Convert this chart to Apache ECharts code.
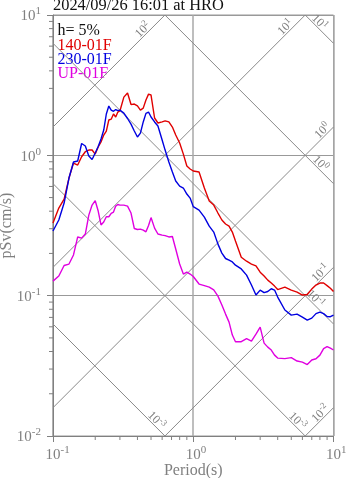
<!DOCTYPE html>
<html>
<head>
<meta charset="utf-8">
<script src="https://cdn.jsdelivr.net/npm/echarts@6/dist/echarts.min.js"></script>
<style>
html,body{margin:0;padding:0;background:#fff;}
#chart{width:347px;height:478px;}
</style>
</head>
<body>
<div id="chart"></div>
<script>
// Pseudo-velocity response spectra (h = 5%), station HRO
const periods = [0.10,0.11,0.12,0.13,0.14,0.15,0.16,0.17,0.18,0.19,0.20,0.21,0.22,0.23,0.24,0.25,0.26,0.27,0.28,0.29,0.30,
  0.32,0.34,0.36,0.38,0.40,0.42,0.44,0.46,0.48,0.50,
  0.53,0.56,0.60,0.63,0.67,0.71,0.75,0.80,0.85,0.90,0.95,
  1.0,1.1,1.2,1.3,1.4,1.5,1.6,1.7,1.8,1.9,2.0,
  2.2,2.4,2.6,2.8,3.0,3.2,3.4,3.6,3.8,4.0,
  4.5,5.0,5.5,6.0,6.5,7.0,7.5,8.0,8.5,9.0,9.5,10];

const sv140 = [0.329,0.421,0.488,0.689,0.881,0.853,0.977,1.061,1.091,1.091,1.021,1.146,1.244,1.395,1.49,1.785,1.81,1.97,1.875,2.035,2.07,
  2.60,2.78,2.30,2.32,2.25,2.10,2.17,2.48,2.73,2.69,
  1.845,1.70,1.73,1.76,1.73,1.59,1.395,1.224,1.02,0.839,0.799,
  0.773,0.760,0.585,0.472,0.442,0.388,0.346,0.324,0.313,0.284,0.245,
  0.188,0.176,0.168,0.163,0.147,0.138,0.129,0.123,0.117,0.1105,
  0.115,0.1096,0.106,0.101,0.102,0.1114,0.119,0.123,0.123,0.118,0.113,0.107];

const sv230 = [0.289,0.346,0.457,0.689,0.896,0.911,1.214,1.165,0.989,0.933,1.038,1.155,1.307,1.515,1.97,2.245,2.10,2.06,2.12,2.08,2.10,
  2.00,1.83,1.67,1.49,1.35,1.44,1.73,1.99,2.035,1.875,
  1.73,1.62,1.285,1.09,0.896,0.760,0.656,0.604,0.585,0.530,0.496,
  0.431,0.407,0.363,0.313,0.284,0.233,0.201,0.184,0.179,0.174,0.165,
  0.155,0.140,0.119,0.101,0.1096,0.105,0.107,0.112,0.1096,0.0977,
  0.079,0.0727,0.0739,0.0704,0.067,0.0692,0.0745,0.0764,0.0745,0.071,0.0708,0.0727];

const svUP = [0.127,0.138,0.164,0.168,0.195,0.262,0.257,0.275,0.375,0.442,0.475,0.401,0.319,0.335,0.365,0.365,0.386,0.394,0.435,0.446,0.442,
  0.442,0.435,0.388,0.301,0.296,0.298,0.293,0.285,0.316,0.360,
  0.303,0.275,0.270,0.268,0.262,0.264,0.215,0.168,0.1426,0.147,0.1426,
  0.137,0.121,0.118,0.115,0.110,0.0993,0.0857,0.0739,0.0648,0.0524,0.0469,
  0.047,0.0494,0.0475,0.0532,0.0597,0.0459,0.043,0.041,0.0377,0.0359,
  0.0356,0.0362,0.0342,0.0336,0.0323,0.0348,0.0355,0.0377,0.042,0.0434,0.0423,0.041];

const seriesNames = ['140-01F', '230-01F', 'UP-01F'];
const seriesColors = ['#e00000', '#0000e0', '#e000e0'];
const dampingText = 'h= 5%';
const titleText = '2024/09/26 16:01 at HRO';

// Axis ranges (decades)
const periodRange = [0.1, 10];
const svRange = [0.01, 10];

// Tripartite guide lines: constant pseudo-acceleration (cm/s^2) and displacement (cm)
const accLevels = [0.01, 0.1, 1, 10, 100, 1000];
const dispLevels = [0.0001, 0.001, 0.01, 0.1, 1, 10];

const SERIF = '"Liberation Serif", "DejaVu Serif", serif';
const GREY = '#808080';
const TWO_PI = 2 * Math.PI;

function accSegment(sa) {           // Sv = Sa * T / 2pi
  const lo = Math.max(periodRange[0], svRange[0] * TWO_PI / sa);
  const hi = Math.min(periodRange[1], svRange[1] * TWO_PI / sa);
  return lo < hi ? [lo, sa * lo / TWO_PI, hi, sa * hi / TWO_PI] : null;
}
function dispSegment(sd) {          // Sv = 2pi * Sd / T
  const lo = Math.max(periodRange[0], TWO_PI * sd / svRange[1]);
  const hi = Math.min(periodRange[1], TWO_PI * sd / svRange[0]);
  return lo < hi ? [lo, TWO_PI * sd / lo, hi, TWO_PI * sd / hi] : null;
}
const guideSegments = accLevels.map(accSegment).concat(dispLevels.map(dispSegment)).filter(Boolean);

// Guide-line labels: which line, and the period where the label sits
const guideLabels = [
  { kind: 'acc',  level: 100,   at: 0.465, exp: '2'  },
  { kind: 'acc',  level: 10,    at: 4.83,  exp: '1'  },
  { kind: 'disp', level: 10,    at: 7.5,   exp: '1'  },
  { kind: 'acc',  level: 1,     at: 8.87,  exp: '0'  },
  { kind: 'disp', level: 1,     at: 7.62,  exp: '0'  },
  { kind: 'acc',  level: 0.1,   at: 8.58,  exp: '-1' },
  { kind: 'disp', level: 0.1,   at: 7.02,  exp: '-1' },
  { kind: 'disp', level: 0.01,  at: 5.22,  exp: '-3' },
  { kind: 'disp', level: 0.001, at: 0.516, exp: '-3' },
  { kind: 'acc',  level: 0.01,  at: 8.58,  exp: '-2' }
];
const guideLabelData = guideLabels.map(g => [g.at, g.kind === 'acc' ? g.level * g.at / TWO_PI : TWO_PI * g.level / g.at]);

// Minor ticks 2..9 within each decade
const minorX = [], minorY = [];
for (let d = -2; d <= 0; d++) {
  for (let m = 2; m <= 9; m++) {
    const v = m * Math.pow(10, d);
    if (v > periodRange[0] && v < periodRange[1]) minorX.push([v, svRange[0], 0]);
    if (v > svRange[0] && v < svRange[1]) minorY.push([periodRange[0], v, 1]);
  }
}

function powLabel(v, centred) {
  const e = String(Math.round(Math.log10(v)));
  return (centred ? '{p|' + e + '}' : '') + '{b|10}{s|' + e + '}';
}
const labelRich = {
  b: { fontFamily: SERIF, fontSize: 15, lineHeight: 18, color: GREY, verticalAlign: 'bottom' },
  s: { fontFamily: SERIF, fontSize: 11, lineHeight: 11, color: GREY, verticalAlign: 'top' },
  p: { fontFamily: SERIF, fontSize: 11, lineHeight: 11, color: 'rgba(0,0,0,0)', verticalAlign: 'top' }
};

const chart = echarts.init(document.getElementById('chart'), null, { renderer: 'canvas' });

const option = {
  animation: false,
  backgroundColor: '#fff',
  grid: {
    left: 53, top: 15, width: 280.5, height: 421,
    containLabel: false, outerBoundsMode: 'none',
    show: true, borderColor: '#999', borderWidth: 1, backgroundColor: 'transparent'
  },
  xAxis: {
    type: 'log', logBase: 10, min: periodRange[0], max: periodRange[1],
    name: 'Period(s)', nameLocation: 'middle', nameGap: 27, nameMoveOverlap: false,
    nameTextStyle: { fontFamily: SERIF, fontSize: 16, color: GREY },
    axisLine: { lineStyle: { color: GREY, width: 1 } },
    axisTick: { length: 6, lineStyle: { color: GREY } },
    splitLine: { show: true, lineStyle: { color: '#a8a8a8', width: 1.5 } },
    axisLabel: { margin: 9, showMinLabel: true, showMaxLabel: true, formatter: v => powLabel(v, true), rich: labelRich }
  },
  yAxis: {
    type: 'log', logBase: 10, min: svRange[0], max: svRange[1],
    name: 'pSv(cm/s)', nameLocation: 'middle', nameGap: 38, nameMoveOverlap: false,
    nameTextStyle: { fontFamily: SERIF, fontSize: 16, color: GREY },
    axisLine: { lineStyle: { color: GREY, width: 1 } },
    axisTick: { length: 6, lineStyle: { color: GREY } },
    splitLine: { show: true, lineStyle: { color: '#999', width: 1.2 } },
    axisLabel: { margin: 12, showMinLabel: true, showMaxLabel: true, formatter: v => powLabel(v, false), rich: labelRich }
  },
  graphic: [
    { type: 'text', x: 53, y: 6, style: { text: titleText, font: '16.4px ' + SERIF, fill: '#111', align: 'left', verticalAlign: 'middle' } },
    { type: 'text', x: 57.5, y: 30.5, style: { text: dampingText, font: '16px ' + SERIF, fill: '#111', verticalAlign: 'middle' } },
    { type: 'text', x: 57.5, y: 45.5, style: { text: seriesNames[0], font: '16px ' + SERIF, fill: seriesColors[0], verticalAlign: 'middle' } },
    { type: 'text', x: 57.5, y: 60, style: { text: seriesNames[1], font: '16px ' + SERIF, fill: seriesColors[1], verticalAlign: 'middle' } },
    { type: 'text', x: 57.5, y: 74, style: { text: seriesNames[2], font: '16px ' + SERIF, fill: seriesColors[2], verticalAlign: 'middle' } }
  ],
  series: [
    {
      type: 'custom', name: 'guides', silent: true, z: 1, clip: true,
      data: guideSegments,
      encode: { x: [0, 2], y: [1, 3] },
      renderItem: (params, api) => {
        const a = api.coord([api.value(0), api.value(1)]);
        const b = api.coord([api.value(2), api.value(3)]);
        return { type: 'line', shape: { x1: a[0], y1: a[1], x2: b[0], y2: b[1] }, style: { stroke: '#8a8a8a', lineWidth: 1 } };
      }
    },
    {
      type: 'custom', name: 'guideLabels', silent: true, z: 2,
      data: guideLabelData,
      renderItem: (params, api) => {
        const g = guideLabels[params.dataIndex];
        const p = api.coord([api.value(0), api.value(1)]);
        const acc = g.kind === 'acc';
        return {
          type: 'text',
          x: p[0] + (acc ? -4.3 : 4.1), y: p[1] - 4.2,
          rotation: acc ? Math.PI / 4 : -Math.PI / 4,
          style: {
            text: '{b|10}{s|' + g.exp + '}', align: 'center', verticalAlign: 'middle',
            rich: {
              b: { fontFamily: SERIF, fontSize: 12, lineHeight: 14, fill: GREY, verticalAlign: 'bottom' },
              s: { fontFamily: SERIF, fontSize: 9, lineHeight: 9, fill: GREY, verticalAlign: 'top' }
            }
          }
        };
      }
    },
    {
      type: 'custom', name: 'minorTicks', silent: true, z: 2,
      data: minorX.concat(minorY),
      renderItem: (params, api) => {
        const p = api.coord([api.value(0), api.value(1)]);
        const vertical = api.value(2) === 0;
        const shape = vertical ? { x1: p[0], y1: p[1], x2: p[0], y2: p[1] + 4 } : { x1: p[0] - 4, y1: p[1], x2: p[0], y2: p[1] };
        return { type: 'line', shape, style: { stroke: GREY, lineWidth: 1 } };
      }
    },
    {
      type: 'line', name: seriesNames[0], symbol: 'none', z: 5,
      data: periods.map((t, i) => [t, sv140[i]]),
      lineStyle: { color: seriesColors[0], width: 1.4 }
    },
    {
      type: 'line', name: seriesNames[1], symbol: 'none', z: 5,
      data: periods.map((t, i) => [t, sv230[i]]),
      lineStyle: { color: seriesColors[1], width: 1.4 }
    },
    {
      type: 'line', name: seriesNames[2], symbol: 'none', z: 5,
      data: periods.map((t, i) => [t, svUP[i]]),
      lineStyle: { color: seriesColors[2], width: 1.4 }
    }
  ]
};
chart.setOption(option);
</script>
</body>
</html>
